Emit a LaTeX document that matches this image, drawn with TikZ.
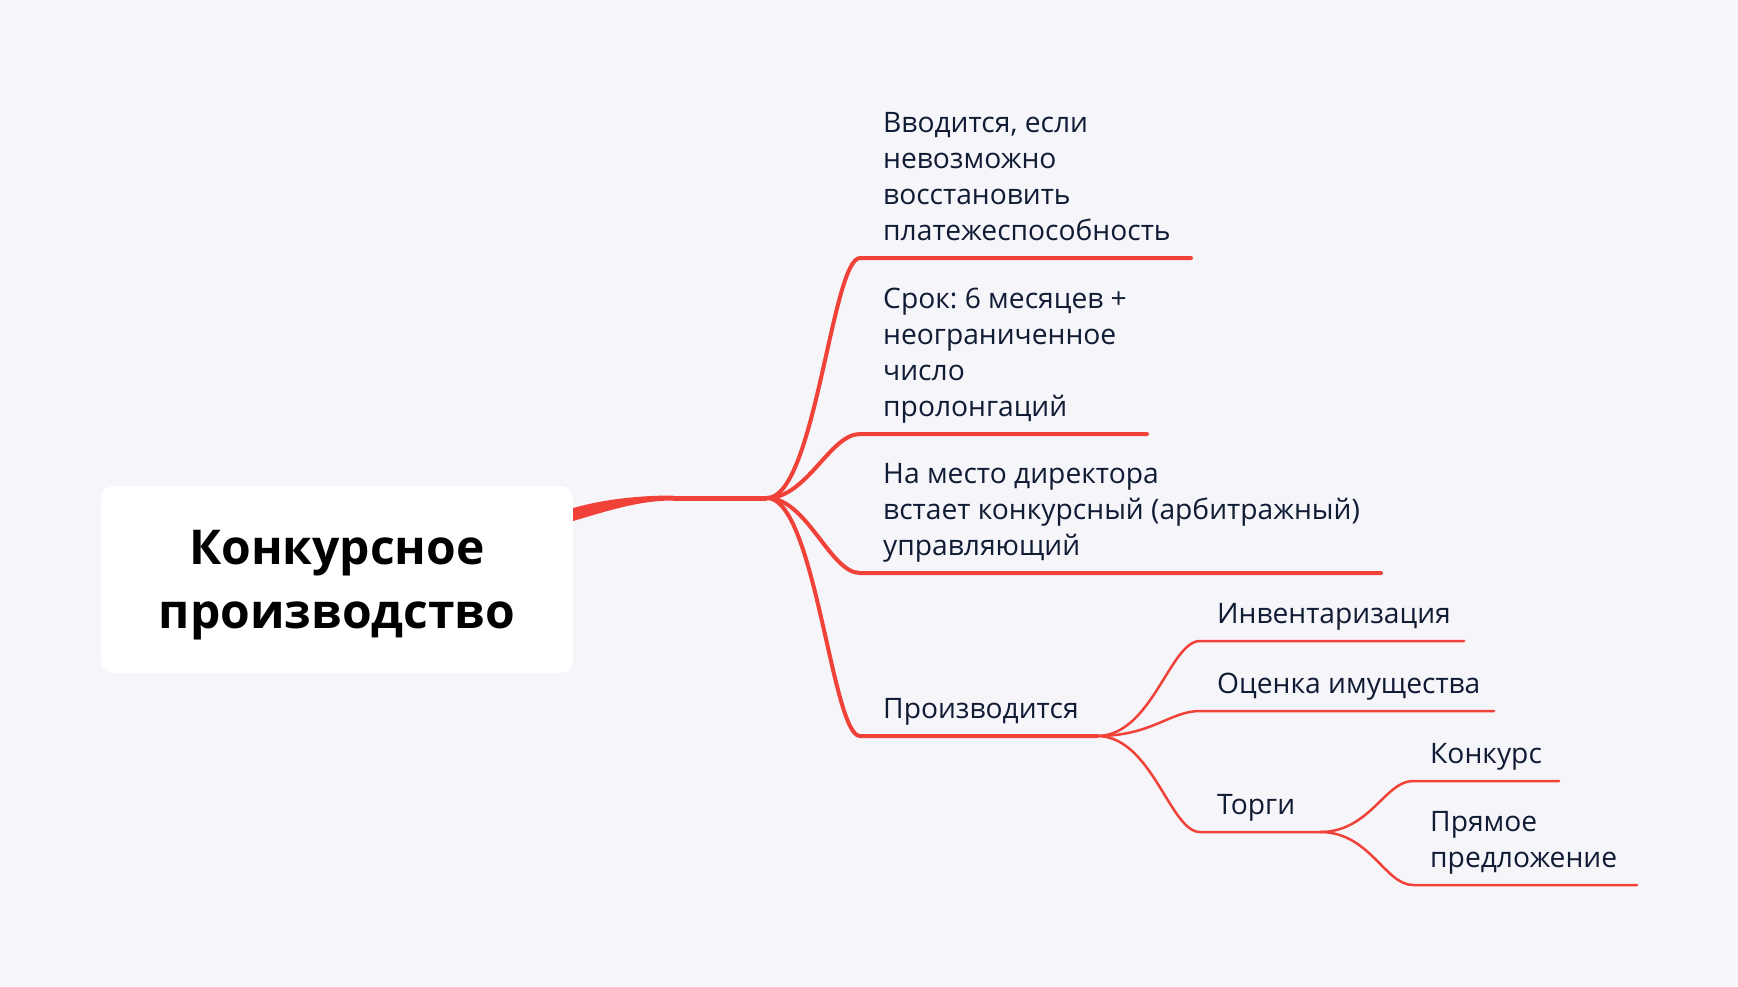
\documentclass[tikz,border=0pt]{standalone}
\usepackage{fontspec}
\setmainfont{Open Sans}
\frenchspacing
\usepackage{xcolor}
\definecolor{colorBranch}{RGB}{240,66,56}
\definecolor{colorText}{RGB}{16,27,52}
\definecolor{colorPaper}{RGB}{245,245,250}
\usepackage{tikz}
\usetikzlibrary{positioning}
\tikzset{
  rootbox/.style={fill=white, rounded corners=12pt, minimum width=472pt, minimum height=187pt, align=center, text=black, font=\bfseries\fontsize{48}{64}\selectfont},
  topic/.style={anchor=south west, inner sep=0pt, align=left, text=colorText, font=\fontsize{28.2}{36}\selectfont},
  trunk/.style={draw=colorBranch, line width=5pt},
  branch/.style={draw=colorBranch, line width=4pt, line cap=round},
  twig/.style={draw=colorBranch, line width=2.5pt, line cap=round}
}

\begin{document}
\begin{tikzpicture}[x=1pt, y=-1pt]
\fill[colorPaper] (0,0) rectangle (1738,986);
\useasboundingbox (0,0) rectangle (1738,986);
\node[rootbox] (root) at (337,579.5) {\rule{0pt}{45pt}Конкурсное\\производство};
\coordinate (tk) at (673,498);
\coordinate (hub) at (767,498);
\coordinate (b1) at (860,258);
\coordinate (e1) at (1191,258);
\coordinate (b2) at (860,434);
\coordinate (e2) at (1147,434);
\coordinate (b3) at (860,573);
\coordinate (e3) at (1381,573);
\coordinate (b4) at (860,736);
\coordinate (hub1) at (1097,736);
\coordinate (c1) at (1200,641);
\coordinate (f1) at (1464,641);
\coordinate (c2) at (1200,711);
\coordinate (f2) at (1494,711);
\coordinate (c3) at (1200,832);
\coordinate (hub2) at (1320,832);
\coordinate (d1) at (1413,781);
\coordinate (g1) at (1559,781);
\coordinate (d2) at (1413,885);
\coordinate (g2) at (1637,885);
\fill[colorBranch] ([yshift=71.5pt]root.east) .. controls (605,499) and (640,495.5) .. (673,495.5) -- (673,500.5) .. controls (640,500.5) and (610,510) .. ([yshift=58.5pt]root.east) -- cycle;
\draw[trunk] (tk) -- (hub);
\draw[branch] (hub) .. controls +(48,0) and +(-28,0) .. (b1) -- (e1);
\draw[branch] (hub) .. controls +(40,0) and +(-30,0) .. (b2) -- (e2);
\draw[branch] (hub) .. controls +(40,0) and +(-30,0) .. (b3) -- (e3);
\draw[branch] (hub) .. controls +(48,0) and +(-28,0) .. (b4) -- (hub1);
\draw[twig] (hub1) .. controls +(55,0) and +(-30,0) .. (c1) -- (f1);
\draw[twig] (hub1) .. controls +(55,0) and +(-30,0) .. (c2) -- (f2);
\draw[twig] (hub1) .. controls +(55,0) and +(-30,0) .. (c3) -- (hub2);
\draw[twig] (hub2) .. controls +(50,0) and +(-28,0) .. (d1) -- (g1);
\draw[twig] (hub2) .. controls +(50,0) and +(-28,0) .. (d2) -- (g2);
\node[topic, above right=7pt and 23pt of b1] (t1) {Вводится, если\\невозможно\\восстановить\\платежеспособность\strut};
\node[topic, above right=7pt and 23pt of b2] (t2) {Срок: 6 месяцев +\\неограниченное\\число\\пролонгаций\strut};
\node[topic, above right=7pt and 23pt of b3] (t3) {На место директора\\встает конкурсный (арбитражный)\\управляющий\strut};
\node[topic, above right=7pt and 23pt of b4] (t4) {Производится\strut};
\node[topic, above right=7pt and 17pt of c1] (s1) {Инвентаризация\strut};
\node[topic, above right=7pt and 17pt of c2] (s2) {Оценка имущества\strut};
\node[topic, above right=7pt and 17pt of c3] (s3) {Торги\strut};
\node[topic, above right=7pt and 17pt of d1] (u1) {Конкурс\strut};
\node[topic, above right=7pt and 17pt of d2] (u2) {Прямое\\предложение\strut};
\end{tikzpicture}
\end{document}
